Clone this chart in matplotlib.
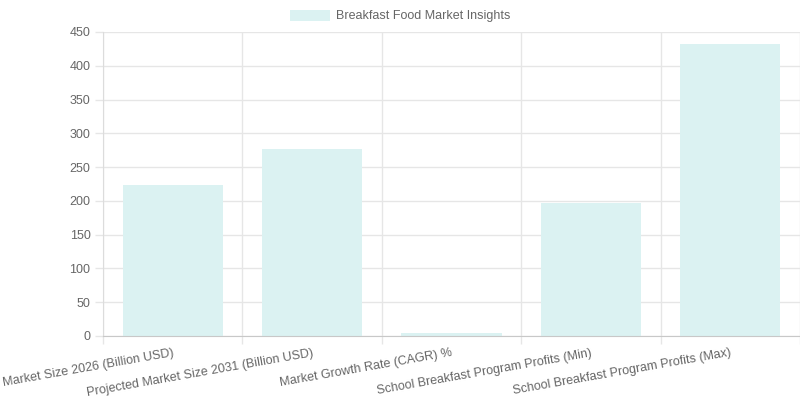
import matplotlib
matplotlib.use("Agg")
import matplotlib.pyplot as plt
from matplotlib.patches import Patch

plt.rcParams['font.family'] = ['Liberation Sans', 'DejaVu Sans']

# Data
categories = [
    "Market Size 2026 (Billion USD)",
    "Projected Market Size 2031 (Billion USD)",
    "Market Growth Rate (CAGR) %",
    "School Breakfast Program Profits (Min)",
    "School Breakfast Program Profits (Max)",
]
values = [223.4, 276.5, 4.7, 196.4, 432.0]
series_name = "Breakfast Food Market Insights"
y_ticks = [0, 50, 100, 150, 200, 250, 300, 350, 400, 450]

fill = "#dbf2f2"
text_col = "#666666"
grid_col = "#e6e6e6"

fig = plt.figure(figsize=(8, 4), dpi=100)
ax = fig.add_axes((103 / 800, 1 - 336 / 400, 697 / 800, 304 / 400))

x = list(range(len(categories)))
ax.bar(x, values, width=0.72, color=fill, edgecolor="none", zorder=2)

ax.set_xlim(-0.5, len(categories) - 0.5)
ax.set_ylim(0, 450)
ax.set_yticks(y_ticks)
ax.set_yticklabels([str(v) for v in y_ticks])

# vertical grid lines sit on the category boundaries
bounds = [i - 0.5 for i in range(len(categories) + 1)]
ax.set_xticks(bounds, minor=True)
ax.set_xticks(x)
ax.set_xticklabels(categories, rotation=10, ha="right", rotation_mode="anchor")
ax.grid(True, which="minor", axis="x", color=grid_col, linewidth=1, zorder=0)
ax.grid(True, which="major", axis="y", color=grid_col, linewidth=1, zorder=0)
ax.tick_params(axis="x", which="major", length=0, pad=8, labelsize=9, labelcolor=text_col)
ax.tick_params(axis="x", which="minor", length=6, color=grid_col, width=1)
ax.tick_params(axis="y", length=6, color=grid_col, width=1, pad=3, labelsize=9, labelcolor=text_col)

for side in ("top", "right"):
    ax.spines[side].set_visible(False)
ax.spines["left"].set_color("#dcdcdc")
ax.spines["bottom"].set_color("#c8c8c8")

handle = Patch(facecolor=fill, edgecolor="none")
fig.legend([handle], [series_name], loc="center", bbox_to_anchor=(0.5, 1 - 16 / 400),
           frameon=False, fontsize=9, labelcolor=text_col,
           handlelength=3.2, handleheight=1.0, handletextpad=0.5)

fig.savefig("out.png", dpi=100)
